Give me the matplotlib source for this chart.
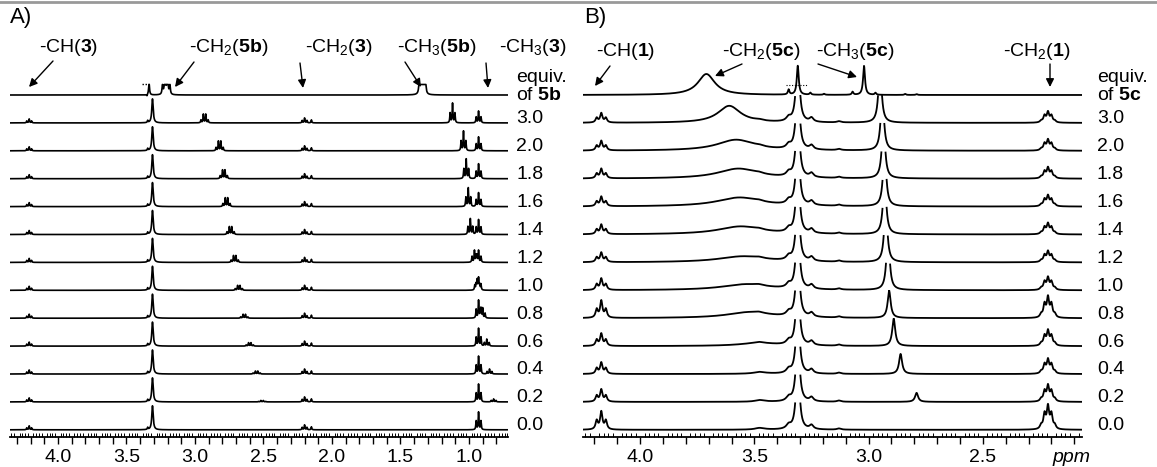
import numpy as np
import matplotlib.pyplot as plt
from matplotlib.lines import Line2D
from matplotlib.ticker import MultipleLocator, FuncFormatter

plt.rcParams['font.family'] = ['Liberation Sans', 'DejaVu Sans']
plt.rcParams['mathtext.fontset'] = 'custom'
plt.rcParams['mathtext.rm'] = 'Liberation Sans'
plt.rcParams['mathtext.it'] = 'Liberation Sans:italic'
plt.rcParams['mathtext.bf'] = 'Liberation Sans:bold'

W, H = 1157, 467

# equivalents of added 5b / 5c, top to bottom
equiv_labels = ['3.0', '2.0', '1.8', '1.6', '1.4', '1.2', '1.0', '0.8', '0.6', '0.4', '0.2', '0.0']

# ---------------- panel A : 3 + 5b ----------------
# reference spectrum of 5b alone (ppm, height px, number of lines, J, line width)
a_ref_ppm = [3.35, 3.335, 3.21, 1.34]
a_ref_h = [-1.5, 12, 30, 60]
a_ref_n = [1, 1, 4, 3]
a_ref_J = [0.0, 0.0, 0.018, 0.02]
a_ref_w = [0.003, 0.004, 0.004, 0.004]

# signals of 3 that do not move
a_fix_ppm = [4.21, 3.345, 3.31, 2.20, 2.15]
a_fix_h = [4, 2, 24, 5, 3]
a_fix_n = [3, 1, 1, 3, 1]

# CH3 of 3 (triplet) per row
a_ch3_3_ppm = 0.93
a_ch3_3_h = [12, 14, 15, 14, 15, 12, 12, 18, 18, 18, 18, 18]

# CH2 of 5b (quartet) per row
a_ch2_5b_ppm = [2.93, 2.82, 2.79, 2.77, 2.74, 2.71, 2.68, 2.64, 2.60, 2.55, 2.51, 2.5]
a_ch2_5b_h = [9, 10, 9, 9, 8, 7, 5, 4, 3.5, 3, 1.5, 0]

# CH3 of 5b (triplet) per row
a_ch3_5b_ppm = [1.12, 1.04, 1.02, 1.005, 0.99, 0.96, 0.94, 0.90, 0.87, 0.85, 0.82, 0.8]
a_ch3_5b_h = [20, 20, 20, 19, 16, 12, 10, 10, 7, 5, 3, 0]

# ---------------- panel B : 1 + 5c ----------------
b_ref_ppm = [3.71, 3.35, 3.31, 3.255, 3.195, 3.07, 3.02, 2.97, 2.84, 2.79]
b_ref_h = [21, 5, 29, 2, 1, 3, 29, 2, 1, 0.8]
b_ref_w = [0.045, 0.004, 0.005, 0.004, 0.004, 0.004, 0.005, 0.004, 0.004, 0.004]

b_fix_ppm = [3.48, 3.35, 3.31, 3.25, 3.13]
b_fix_h = [1, 4, 80, 4, 1.2]
b_fix_w = [0.02, 0.012, 0.008, 0.01, 0.01]

b_ch_1_ppm = 4.17
b_ch_1_h = [10, 10, 10, 10, 10, 10, 12, 18, 13, 12, 13, 19]
b_ch2_1_ppm = 2.215
b_ch2_1_h = [12, 12, 12, 12, 12, 12, 14, 23, 17, 16, 18, 26]

b_hump_ppm = [3.61, 3.58, 3.57, 3.565, 3.56, 3.55, 3.535, 3.52, 3.48, 3.47, 3.47, 3.47]
b_hump_h = [17, 11, 10, 9, 8, 6, 6, 6, 3, 1, 0.8, 0.8]
b_hump_w = [0.06, 0.1, 0.11, 0.12, 0.12, 0.13, 0.13, 0.12, 0.1, 0.05, 0.03, 0.03]

b_ch3_5c_ppm = [2.95, 2.94, 2.935, 2.93, 2.93, 2.925, 2.915, 2.91, 2.89, 2.86, 2.79, 2.7]
b_ch3_5c_h = [60, 60, 60, 60, 60, 60, 60, 27, 27, 20, 9, 0]


def lorentz(x, c, w):
    return 1.0 / (1.0 + ((x - c) / w) ** 2)


def multiplet(x, c, n, J=0.0175, w=0.003):
    coef = [1]
    for _ in range(n - 1):
        coef = [a + b for a, b in zip([0] + coef, coef + [0])]
    s = sum(k * lorentz(x, c + (i - (n - 1) / 2) * J, w) for i, k in enumerate(coef))
    return s / s.max()


fig = plt.figure(figsize=(W / 100, H / 100), dpi=100)
fig.add_artist(Line2D([0, 1], [1 - 1.5 / H] * 2, color='0.6', lw=2, transform=fig.transFigure))

base_pix = 437
row0 = 95
step = 27.9


def make_axes(left, right, xlim):
    ax = fig.add_axes([left / W, (H - base_pix) / H, (right - left) / W, base_pix / H])
    ax.set_xlim(*xlim)
    ax.set_ylim(0, base_pix)
    for s in ['top', 'left', 'right']:
        ax.spines[s].set_visible(False)
    ax.spines['bottom'].set_linewidth(1.3)
    ax.set_yticks([])
    ax.patch.set_alpha(0)
    ax.xaxis.set_major_locator(MultipleLocator(0.1))
    ax.xaxis.set_minor_locator(MultipleLocator(0.02))
    ax.xaxis.set_major_formatter(FuncFormatter(
        lambda v, p: f'{v:.1f}' if abs(v * 2 - round(v * 2)) < 1e-6 else ''))
    ax.tick_params(axis='x', which='major', length=5, width=1, labelsize=14, pad=4)
    ax.tick_params(axis='x', which='minor', length=3, width=0.7, direction='in')
    return ax


def ytext(pix):
    return 1 - pix / H


# ---------- panel A ----------
axA = make_axes(10, 508, (4.35, 0.715))
xa = np.linspace(4.35, 0.715, 6000)

ref = np.zeros_like(xa)
for p, h, n, J, w in zip(a_ref_ppm, a_ref_h, a_ref_n, a_ref_J, a_ref_w):
    ref += h * multiplet(xa, p, n, J=J, w=w)
ref = np.minimum(ref, 10.5)
axA.plot(xa, base_pix - row0 + ref, color='k', lw=1.2)
axA.plot([3.39, 3.335], [base_pix - row0 + 11.5] * 2, color='k', lw=1, ls=(0, (1, 1.2)))

for i in range(len(equiv_labels)):
    y = np.zeros_like(xa)
    for p, h, n in zip(a_fix_ppm, a_fix_h, a_fix_n):
        w = 0.006 if n == 1 and h > 10 else 0.003
        y += h * multiplet(xa, p, n, w=w)
    y += a_ch3_3_h[i] * multiplet(xa, a_ch3_3_ppm, 3)
    if a_ch2_5b_h[i] > 0:
        y += a_ch2_5b_h[i] * multiplet(xa, a_ch2_5b_ppm[i], 4)
    if a_ch3_5b_h[i] > 0:
        y += a_ch3_5b_h[i] * multiplet(xa, a_ch3_5b_ppm[i], 3)
    axA.plot(xa, base_pix - (row0 + step * (i + 1)) + y, color='k', lw=1.2)

# ---------- panel B ----------
axB = make_axes(583, 1082, (4.25, 2.066))
xb = np.linspace(4.25, 2.066, 5000)

ref = np.zeros_like(xb)
for p, h, w in zip(b_ref_ppm, b_ref_h, b_ref_w):
    ref += h * lorentz(xb, p, w)
axB.plot(xb, base_pix - row0 + ref, color='k', lw=1.3)
axB.plot([3.36, 3.27], [base_pix - row0 + 10] * 2, color='k', lw=0.8, ls=(0, (1, 1.5)))

clip = 27
for i in range(len(equiv_labels)):
    y = np.zeros_like(xb)
    for p, h, w in zip(b_fix_ppm, b_fix_h, b_fix_w):
        y += h * lorentz(xb, p, w)
    y += b_ch_1_h[i] * multiplet(xb, b_ch_1_ppm, 3, J=0.02, w=0.006)
    y += b_ch2_1_h[i] * multiplet(xb, b_ch2_1_ppm, 5, J=0.015, w=0.006)
    y += b_hump_h[i] * lorentz(xb, b_hump_ppm[i], b_hump_w[i])
    if b_ch3_5c_h[i] > 0:
        y += b_ch3_5c_h[i] * lorentz(xb, b_ch3_5c_ppm[i], 0.008)
    y = np.where(y > clip, np.nan, y)
    axB.plot(xb, base_pix - (row0 + step * (i + 1)) + y, color='k', lw=1.3)

# row labels
for x0, comp in [(516, '5b'), (1097, '5c')]:
    fig.text(x0 / W, ytext(78), 'equiv.', fontsize=14, va='center')
    fig.text(x0 / W, ytext(96), 'of $\\mathbf{' + comp + '}$', fontsize=14, va='center')
    for i, lab in enumerate(equiv_labels):
        fig.text(x0 / W, ytext(row0 + step * (i + 1) - 4), lab, fontsize=14, va='center')

fig.text(10 / W, ytext(17), 'A)', fontsize=16, va='center')
fig.text(584 / W, ytext(17), 'B)', fontsize=16, va='center')
fig.text(1071 / W, ytext(457), 'ppm', fontsize=14, style='italic', ha='center', va='center')

headA = [('-CH($\\mathbf{3}$)', 69), ('-CH$_2$($\\mathbf{5b}$)', 229), ('-CH$_2$($\\mathbf{3}$)', 339),
         ('-CH$_3$($\\mathbf{5b}$)', 437), ('-CH$_3$($\\mathbf{3}$)', 533)]
for t, x in headA:
    fig.text(x / W, ytext(48), t, fontsize=14, ha='center', va='center')
headB = [('-CH($\\mathbf{1}$)', 626), ('-CH$_2$($\\mathbf{5c}$)', 761), ('-CH$_3$($\\mathbf{5c}$)', 855),
         ('-CH$_2$($\\mathbf{1}$)', 1037)]
for t, x in headB:
    fig.text(x / W, ytext(52), t, fontsize=14, ha='center', va='center')

arrows = [((53, 61), (29, 87)), ((194, 62), (175, 87)), ((300, 63), (303, 88)), ((405, 62), (421, 87)),
          ((486, 63), (488, 88)), ((610, 66), (595, 86)), ((742, 64), (715, 76)), ((818, 64), (857, 77)),
          ((1050, 64), (1050, 87))]
for (x0, y0), (x1, y1) in arrows:
    axA.annotate('', xy=(x1, H - y1), xytext=(x0, H - y0), xycoords='figure pixels',
                 textcoords='figure pixels',
                 arrowprops=dict(arrowstyle='-|>', color='k', lw=1, mutation_scale=12, shrinkA=0, shrinkB=0))

fig.savefig('out.png', dpi=100)
